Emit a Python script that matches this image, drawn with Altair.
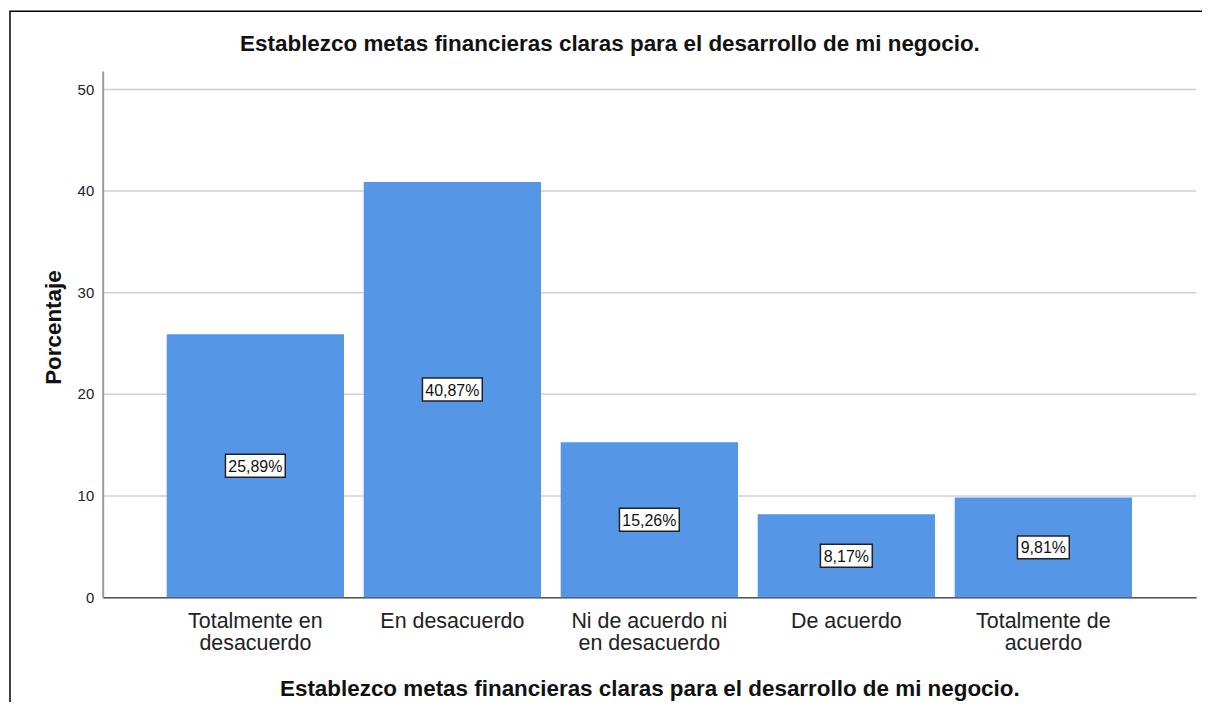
import altair as alt
import pandas as pd

categories = ["Totalmente en\ndesacuerdo", "En desacuerdo", "Ni de acuerdo ni\nen desacuerdo",
              "De acuerdo", "Totalmente de\nacuerdo"]
percentages = [25.89, 40.87, 15.26, 8.17, 9.81]
labels = ["25,89%", "40,87%", "15,26%", "8,17%", "9,81%"]
y_ticks = [0, 10, 20, 30, 40, 50]
title_text = "Establezco metas financieras claras para el desarrollo de mi negocio."
y_title = "Porcentaje"

FONT = "Liberation Sans, Arial, sans-serif"
BAR = "#5596E6"

df = pd.DataFrame({"cat": categories, "pct": percentages, "label": labels})

x_enc = alt.X(
    "cat:N", sort=categories,
    scale=alt.Scale(paddingInner=0.1, paddingOuter=0.325),
    axis=alt.Axis(
        title=title_text, labelExpr="split(datum.label, '\\n')",
        labelAngle=0, labelFontSize=21.5, labelFont=FONT, labelColor="#222222",
        labelLineHeight=22, labelPadding=13, ticks=False,
        domainColor="#555555", domainWidth=1.5,
        titleFontSize=22.5, titleFont=FONT, titleFontWeight="bold", titleColor="#111111",
        titleBaseline="alphabetic", titleY=99,
    ),
)
y_scale = alt.Scale(domain=[0, 51.8], nice=False)
y_axis = alt.Axis(
    title=y_title, values=y_ticks, ticks=False, labelFontSize=15, labelFont=FONT,
    labelColor="#222222", labelPadding=9, domainColor="#9a9a9a", domainWidth=2,
    gridColor="#d0d0d0", gridWidth=1.5,
    titleFontSize=22.5, titleFont=FONT, titleFontWeight="bold", titleColor="#111111",
    titleBaseline="alphabetic", titleX=-42, titleY=257, titleAlign="center", titleAngle=-90,
)

base = alt.Chart(df)

bars = base.mark_bar(color=BAR).encode(
    x=x_enc,
    y=alt.Y("pct:Q", scale=y_scale, axis=y_axis),
)

box_calc = base.transform_calculate(
    lo="datum.pct / 2 - 1.13", hi="datum.pct / 2 + 1.13", n="length(datum.label)"
)
box6 = box_calc.transform_filter("datum.n == 6").mark_bar(
    width=60, fill="white", stroke="#222222", strokeWidth=1.5
).encode(x=alt.X("cat:N", sort=categories), y=alt.Y("lo:Q", scale=y_scale), y2="hi:Q")
box5 = box_calc.transform_filter("datum.n == 5").mark_bar(
    width=52, fill="white", stroke="#222222", strokeWidth=1.5
).encode(x=alt.X("cat:N", sort=categories), y=alt.Y("lo:Q", scale=y_scale), y2="hi:Q")

texts = base.transform_calculate(mid="datum.pct / 2").mark_text(
    font=FONT, fontSize=16, color="#111111", baseline="middle", dy=1
).encode(x=alt.X("cat:N", sort=categories), y=alt.Y("mid:Q", scale=y_scale), text="label:N")

one = alt.Chart(pd.DataFrame({"t": [title_text]}))

title_mark = one.mark_text(
    font=FONT, fontSize=22.5, fontWeight="bold", color="#111111",
    baseline="alphabetic", align="center"
).encode(x=alt.value(509), y=alt.value(-20), text="t:N")

frame = one.mark_rect(
    fill="white", fillOpacity=0, stroke="#000000", strokeWidth=1.5
).encode(x=alt.value(-93), x2=alt.value(1130), y=alt.value(-60), y2=alt.value(720))

chart = alt.layer(bars, box6, box5, texts, title_mark, frame).properties(
    width=1097, height=528,
    background="white",
    autosize=alt.AutoSizeParams(type="none"),
    padding={"left": 95, "top": 62, "right": 6, "bottom": 104},
).configure_view(stroke=None)

chart.save("out.html", embed_options={"renderer": "svg", "actions": False})
